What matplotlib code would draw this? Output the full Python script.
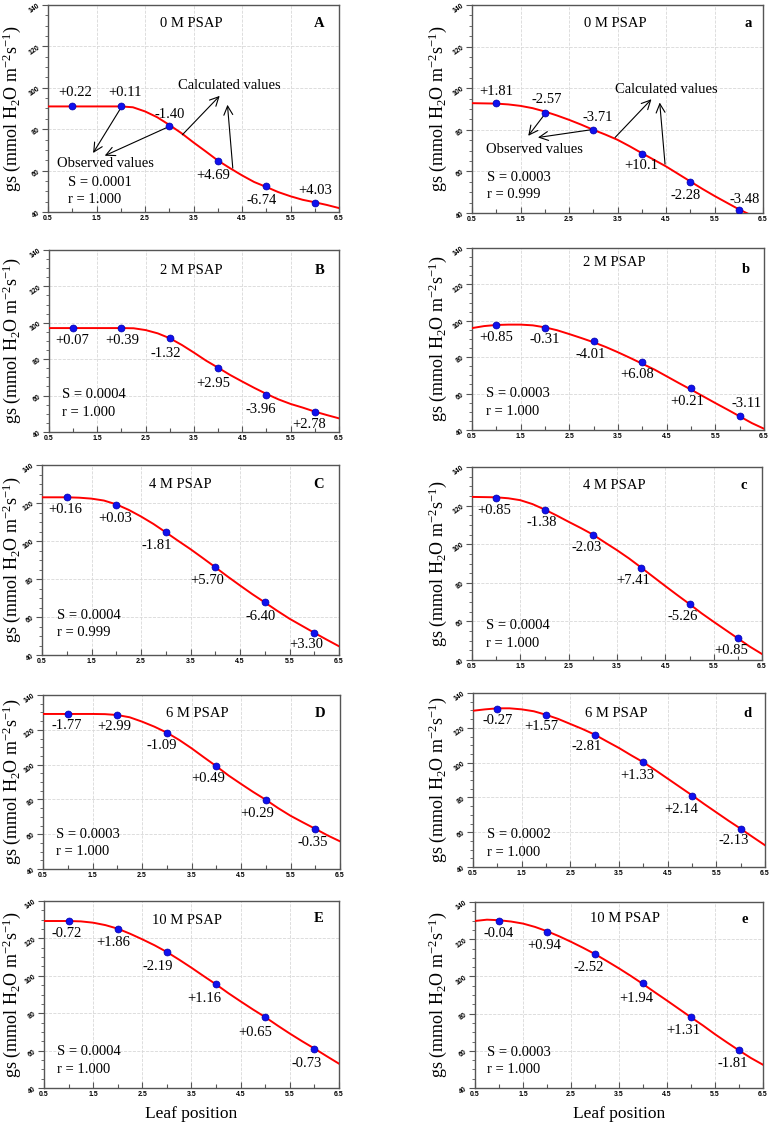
import numpy as np
import matplotlib
matplotlib.use('Agg')
import matplotlib.pyplot as plt
from matplotlib.ticker import MultipleLocator

plt.rcParams['font.family'] = ['Liberation Serif', 'DejaVu Serif']
plt.rcParams['mathtext.fontset'] = 'custom'
plt.rcParams['mathtext.rm'] = 'Liberation Serif'
plt.rcParams['mathtext.it'] = 'Liberation Serif:italic'
plt.rcParams['mathtext.default'] = 'regular'

# ---- data ----
leaf_pos = [1, 2, 3, 4, 5, 6]
fit_x = [0.5, 0.75, 1.0, 1.25, 1.5, 1.75, 2.0, 2.25, 2.5, 2.75, 3.0, 3.25, 3.5,
         3.75, 4.0, 4.25, 4.5, 4.75, 5.0, 5.25, 5.5, 5.75, 6.0, 6.25, 6.5]

obs_A = [91, 91, 81.6, 64.4, 52.4, 44.3]
fit_A = [91, 91, 91, 91, 91, 91, 91, 90.6, 88.6, 85.8, 82.1, 78.1, 73.6, 69.3,
         64.9, 61.2, 57.7, 54.5, 52.1, 49.6, 47.6, 45.9, 44.7, 43.4, 41.9]
dev_A = ['+0.22', '+0.11', '-1.40', '+4.69', '-6.74', '+4.03']

obs_a = [92.8, 88.3, 80, 68.3, 55, 41.6]
fit_a = [92.8, 92.7, 92.6, 92.2, 91.5, 90.4, 88.8, 86.9, 84.8, 82.5, 80.0, 77.7,
         75.2, 72.1, 68.8, 65.6, 62.4, 58.8, 55.2, 51.6, 48.2, 45.0, 41.8, 39.0, 36.0]
dev_a = ['+1.81', '-2.57', '-3.71', '+10.1', '-2.28', '-3.48']

obs_B = [97.3, 97.3, 91.5, 75.3, 60.5, 51]
fit_B = [97.1, 97.1, 97.1, 97.1, 97.1, 97.1, 97.1, 97.0, 96, 94.2, 91.5, 87.8,
         83.6, 79.2, 75.3, 71.3, 67.7, 64.2, 60.9, 57.9, 55.4, 53.4, 51.2, 49.3, 47.5]
dev_B = ['+0.07', '+0.39', '-1.32', '+2.95', '-3.96', '+2.78']

obs_b = [97.9, 96, 88.7, 77.2, 63.1, 47.9]
fit_b = [96, 97.1, 97.7, 97.9, 97.9, 97.5, 96.4, 94.8, 92.7, 90.5, 88.2, 85.6,
         82.7, 79.6, 76.4, 73.2, 69.5, 65.8, 62.2, 58.5, 54.8, 51.2, 47.5, 43.8, 40.7]
dev_b = ['+0.85', '-0.31', '-4.01', '+6.08', '+0.21', '-3.11']

obs_C = [123, 119, 104.6, 86.2, 67.7, 51.7]
fit_C = [123, 123, 123, 122.8, 122.3, 121.3, 119.3, 116.4, 112.9, 109, 104.6, 100.1,
         95.7, 91, 86.2, 81.3, 76.6, 72, 67.7, 63.3, 59.1, 55.4, 51.7, 48.1, 44.6]
dev_C = ['+0.16', '+0.03', '-1.81', '+5.70', '-6.40', '+3.30']

obs_c = [124.1, 117.6, 105, 87.8, 69, 51.2]
fit_c = [124.5, 124.4, 124.3, 123.8, 122.8, 120.8, 118.0, 114.9, 111.6, 108.4, 105, 100.9,
         96.9, 92.6, 87.9, 83.1, 78.3, 73.6, 69, 64.2, 59.8, 55.5, 51.2, 46.9, 43.1]
dev_c = ['+0.85', '-1.38', '-2.03', '+7.41', '-5.26', '+0.85']

obs_D = [129.1, 128.3, 118.4, 99.1, 79.8, 63.1]
fit_D = [129.1, 129.1, 129.1, 129.1, 129.1, 129, 128.5, 127.2, 124.7, 121.8, 118.4, 114.2,
         109.4, 104.2, 99.1, 93.7, 88.9, 84.2, 79.8, 75, 70.6, 66.8, 63.1, 59.3, 55.9]
dev_D = ['-1.77', '+2.99', '-1.09', '+0.49', '+0.29', '-0.35']

obs_d = [130.8, 127.2, 116.1, 100.2, 81, 61.8]
fit_d = [129.8, 130.6, 131.2, 131.2, 130.6, 129.5, 127.5, 125.1, 122.2, 119.3, 116.1, 112.2,
         108.4, 104.2, 100.2, 95.6, 90.8, 86, 81.2, 76.2, 71.4, 66.6, 62, 57.2, 52.5]
dev_d = ['-0.27', '+1.57', '-2.81', '+1.33', '+2.14', '-2.13']

obs_E = [129.3, 125.2, 112.7, 95.4, 77.9, 61.1]
fit_E = [129.3, 129.3, 129.3, 129.1, 128.4, 127.1, 125.2, 122.5, 119.5, 116.3, 112.7, 108.6,
         104.3, 99.8, 95.4, 90.7, 86.3, 82, 77.9, 73.4, 69.1, 65, 61.1, 57, 53]
dev_E = ['-0.72', '+1.86', '-2.19', '+1.16', '+0.65', '-0.73']

obs_e = [129.8, 123.9, 112, 96.3, 78, 60.2]
fit_e = [129.8, 130.5, 130.2, 129.5, 128.4, 126.6, 124.3, 121.6, 118.6, 115.4, 112, 108.2,
         104.3, 100.2, 95.9, 91.4, 87, 82.5, 78, 73.6, 68.9, 64.5, 60.2, 56.1, 52.5]
dev_e = ['-0.04', '+0.94', '-2.52', '+1.94', '+1.31', '-1.81']

titles = ['0 M PSAP', '0 M PSAP', '2 M PSAP', '2 M PSAP', '4 M PSAP', '4 M PSAP',
          '6 M PSAP', '6 M PSAP', '10 M PSAP', '10 M PSAP']
letters = ['A', 'a', 'B', 'b', 'C', 'c', 'D', 'd', 'E', 'e']
s_vals = ['0.0001', '0.0003', '0.0004', '0.0003', '0.0004', '0.0004',
          '0.0003', '0.0002', '0.0004', '0.0003']
r_vals = ['1.000', '0.999', '1.000', '1.000', '0.999', '1.000',
          '1.000', '1.000', '1.000', '1.000']

obs_all = [obs_A, obs_a, obs_B, obs_b, obs_C, obs_c, obs_D, obs_d, obs_E, obs_e]
fit_all = [fit_A, fit_a, fit_B, fit_b, fit_C, fit_c, fit_D, fit_d, fit_E, fit_e]
dev_all = [dev_A, dev_a, dev_B, dev_b, dev_C, dev_c, dev_D, dev_d, dev_E, dev_e]

# ---- layout (pixel boxes: left, right, top, bottom) ----
W, H = 770, 1126
boxes = [(48, 339, 5, 212), (472, 763, 5, 213),
         (49, 339, 250, 432), (472, 764, 248, 430),
         (42, 339, 465, 655), (472, 762, 467, 660),
         (43, 340, 695, 869), (473, 765, 693, 867),
         (44, 339, 901, 1088), (475, 763, 902, 1088)]
ylab_center = [12, 438]  # pixel x of the y-label centre, left / right column

dev_pos = [
    [(1.05, 97.7), (2.08, 97.7), (3.01, 87), (3.9, 57.5), (4.9, 45.5), (6.0, 50.3)],
    [(1.0, 98.4), (2.03, 94.4), (3.1, 86.1), (4.0, 62.6), (4.9, 48.3), (6.12, 46.7)],
    [(0.98, 90.2), (2.02, 90.2), (2.91, 82.9), (3.9, 66.7), (4.89, 52.6), (5.89, 44.2)],
    [(1.0, 90.9), (1.99, 89.6), (2.93, 81.4), (3.89, 70.4), (4.92, 55.4), (6.14, 54.5)],
    [(0.97, 116.5), (1.98, 112.1), (2.82, 97.6), (3.83, 79.1), (4.91, 60.4), (5.84, 45.4)],
    [(0.96, 117.6), (1.95, 111), (2.87, 98.1), (3.83, 81.4), (4.85, 62.4), (5.86, 44.7)],
    [(0.97, 122.2), (1.94, 121.8), (2.89, 110.7), (3.84, 91.8), (4.83, 72.1), (5.95, 55.3)],
    [(1.0, 124.3), (1.91, 120.5), (2.84, 109.3), (3.87, 92.6), (4.78, 73.3), (5.85, 55.3)],
    [(0.97, 122.7), (1.91, 118), (2.82, 104.8), (3.77, 87.7), (4.79, 69.8), (5.84, 53)],
    [(0.99, 123), (1.94, 116.8), (2.87, 104.8), (3.86, 88.2), (4.85, 70.7), (5.87, 53.4)],
]
title_pos = [(3.46, 131), (3.45, 131), (3.45, 128.6), (3.43, 131.8), (3.3, 129.8),
             (3.45, 130.5), (3.62, 129.1), (3.44, 128.1), (3.41, 129.6), (3.62, 130.9)]
letter_pos = [(6.09, 131), (6.2, 131), (6.09, 128.6), (6.13, 128), (6.09, 129.8),
              (6.13, 130.5), (6.09, 129.1), (6.13, 128.1), (6.09, 130.5), (6.13, 130.5)]
sr_pos = [(0.91, 54.3, 46), (0.8, 57.3, 48.8), (0.76, 60.7, 50.6), (0.79, 60, 49.9),
          (0.8, 60.8, 51.7), (0.8, 57.8, 48.6), (0.77, 60.1, 50.1), (0.79, 58.6, 48.6),
          (0.76, 59.3, 49.8), (0.74, 59.3, 49.8)]

# arrows: text position + (tail, head) pairs in data coords
arrows = {
    0: {'obs': ((1.68, 63.6), [((2.0, 90.2), (1.43, 68.5)), ((2.95, 80.8), (1.67, 67.2))]),
        'calc': ((4.24, 100.9), [((3.27, 77.3), (4.04, 96.1)), ((4.31, 61.2), (4.2, 91.8))])},
    1: {'obs': ((1.79, 70.7), [((2.0, 87.5), (1.66, 77.1)), ((2.95, 80.0), (1.86, 76.3))]),
        'calc': ((4.51, 99.5), [((3.45, 76.3), (4.2, 94.7)), ((4.48, 63.5), (4.37, 93.1))])},
}

fig = plt.figure(figsize=(W / 100, H / 100), dpi=100)
txt = 10.5

for i in range(10):
    l, r, t, b = boxes[i]
    ax = fig.add_axes([l / W, 1 - b / H, (r - l) / W, (b - t) / H])
    ax.set_xlim(0.5, 6.5)
    ax.set_ylim(40, 140)
    ax.xaxis.set_minor_locator(MultipleLocator(0.5))
    ax.yaxis.set_major_locator(MultipleLocator(20))
    ax.yaxis.set_minor_locator(MultipleLocator(5))
    ax.set_xticks([0.5, 1.5, 2.5, 3.5, 4.5, 5.5, 6.5])
    ax.set_xticklabels(['0.5', '1.5', '2.5', '3.5', '4.5', '5.5', '6.5'])
    ax.grid(True, which='major', color='#d8d8d8', linestyle='--', linewidth=0.6)
    ax.set_axisbelow(True)
    for sp in ax.spines.values():
        sp.set_color('#555555')
        sp.set_linewidth(1.0)
    ax.tick_params(axis='x', which='major', direction='in', length=4, width=0.8,
                   color='#555555', labelsize=5, pad=2)
    ax.tick_params(axis='x', which='minor', direction='in', length=3, width=0.8, color='#555555')
    ax.tick_params(axis='y', which='major', direction='out', length=4, width=0.8,
                   color='#555555', labelsize=5, pad=1)
    ax.tick_params(axis='y', which='minor', direction='out', length=2, width=0.6, color='#555555')
    for lab in ax.get_xticklabels() + ax.get_yticklabels():
        lab.set_family(['Liberation Sans', 'DejaVu Sans'])
        lab.set_fontweight('bold')
    for lab in ax.get_yticklabels():
        lab.set_rotation(35)

    ax.plot(fit_x, fit_all[i], color='#ff0000', lw=1.4, zorder=3, clip_on=True)
    ax.plot(leaf_pos, obs_all[i], 'o', color='#1010ee', markersize=5,
            markeredgecolor='#0000aa', markeredgewidth=0.5, zorder=4)

    for s, (tx, ty) in zip(dev_all[i], dev_pos[i]):
        ax.text(tx, ty, s, fontsize=txt, ha='center', va='center')

    ax.text(title_pos[i][0], title_pos[i][1], titles[i], fontsize=txt, ha='center', va='center')
    ax.text(letter_pos[i][0], letter_pos[i][1], letters[i], fontsize=txt, fontweight='bold',
            ha='center', va='center')
    sx, sy, ry = sr_pos[i]
    ax.text(sx, sy, 'S = ' + s_vals[i], fontsize=txt, ha='left', va='center')
    ax.text(sx, ry, 'r = ' + r_vals[i], fontsize=txt, ha='left', va='center')

    ax.set_ylabel(r'gs (mmol H$_2$O m$^{-2}$s$^{-1}$)', fontsize=13, va='center')
    ax.yaxis.set_label_coords(-(l - ylab_center[i % 2]) / (r - l), 0.5)

    if i in arrows:
        for key, label in (('obs', 'Observed values'), ('calc', 'Calculated values')):
            (lx, ly), pairs = arrows[i][key]
            ax.text(lx, ly, label, fontsize=txt, ha='center', va='center')
            for tail, head in pairs:
                ax.annotate('', xy=head, xytext=tail,
                            arrowprops=dict(arrowstyle='->', color='black', lw=0.8,
                                            mutation_scale=16, shrinkA=0, shrinkB=0))

    if i >= 8:
        ax.set_xlabel('Leaf position', fontsize=12.5, labelpad=6)

fig.savefig('out.png', dpi=100)
